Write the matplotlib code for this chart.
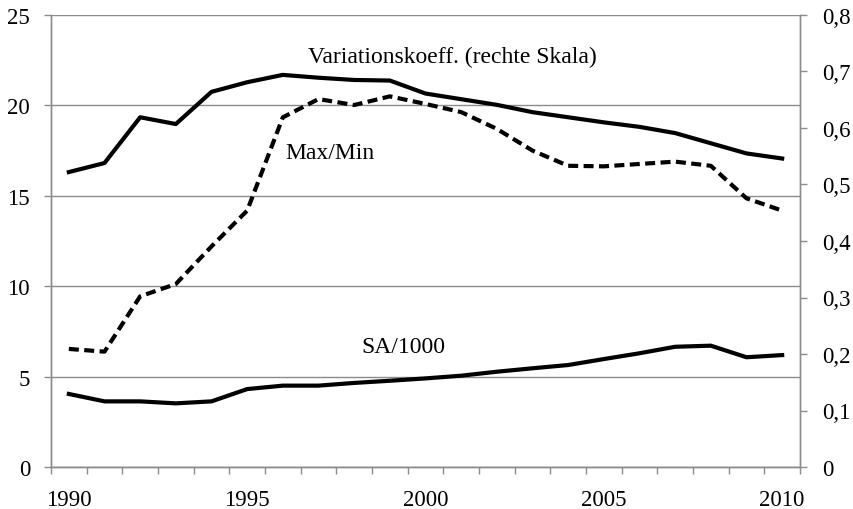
import numpy as np
import matplotlib.pyplot as plt
from matplotlib.ticker import FuncFormatter

years = list(range(1990, 2011))

# Variationskoeffizient (right scale)
var_koeff = [0.522, 0.538, 0.619, 0.607, 0.664, 0.681, 0.694, 0.689, 0.685, 0.684,
             0.661, 0.651, 0.641, 0.628, 0.619, 0.610, 0.602, 0.591, 0.573, 0.555, 0.546]
# Max/Min (left scale)
max_min = [6.53, 6.38, 9.44, 10.12, 12.2, 14.18, 19.34, 20.35, 20.02, 20.5,
           20.08, 19.63, 18.7, 17.5, 16.66, 16.63, 16.76, 16.89, 16.66, 14.86, 14.18]
# SA/1000 (left scale)
sa_1000 = [4.04, 3.63, 3.63, 3.52, 3.63, 4.31, 4.50, 4.50, 4.65, 4.77,
           4.90, 5.05, 5.27, 5.46, 5.64, 5.97, 6.29, 6.65, 6.71, 6.07, 6.19]

left_ticks = [0, 5, 10, 15, 20, 25]
right_ticks = [0, 0.1, 0.2, 0.3, 0.4, 0.5, 0.6, 0.7, 0.8]

plt.rcParams['font.family'] = ['Liberation Serif', 'DejaVu Serif']
grey = '#8c8c8c'

fig = plt.figure(figsize=(8.54, 5.10), dpi=100)
ax = fig.add_axes([51/854, 42/510, 749/854, 452/510])
ax2 = ax.twinx()

x = np.arange(len(years))
ax.plot(x, max_min, color='black', lw=3, dashes=(2.4, 1.3), solid_capstyle='butt')
ax.plot(x, sa_1000, color='black', lw=3)
ax2.plot(x, var_koeff, color='black', lw=3)

ax.set_xlim(-0.5, len(years) - 0.5)
ax.set_ylim(0, 25)
ax2.set_ylim(0, 0.8)

ax.set_yticks(left_ticks)
ax.set_yticklabels([str(t) for t in left_ticks])
ax2.set_yticks(right_ticks)
ax2.yaxis.set_major_formatter(FuncFormatter(
    lambda v, p: '0' if v == 0 else ('%.1f' % v).replace('.', ',')))

ax.set_xticks(x[::5])
ax.set_xticklabels([str(years[i]) for i in x[::5]])
ax.set_xticks(np.arange(-0.5, len(years)), minor=True)
ax.tick_params(axis='x', which='major', length=0, pad=16, labelsize=16.5)
ax.tick_params(axis='x', which='minor', length=5, color=grey, width=1)
ax.tick_params(axis='y', length=5, color=grey, width=1, pad=10, labelsize=16.5)
ax2.tick_params(axis='y', length=5, color=grey, width=1, pad=11, labelsize=16.5)

ax.grid(axis='y', color=grey, lw=1)
ax.set_axisbelow(True)
for a in (ax, ax2):
    a.spines['top'].set_visible(False)
    for s in ('left', 'right', 'bottom'):
        a.spines[s].set_color(grey)
        a.spines[s].set_linewidth(1)

ax.text(10.74, 22.68, 'Variationskoeff. (rechte Skala)', fontsize=17,
        ha='center', va='center')
ax.text(7.31, 17.37, 'Max/Min', fontsize=17, ha='center', va='center')
ax.text(9.37, 6.64, 'SA/1000', fontsize=17, ha='center', va='center')

fig.savefig('out.png', dpi=100)
